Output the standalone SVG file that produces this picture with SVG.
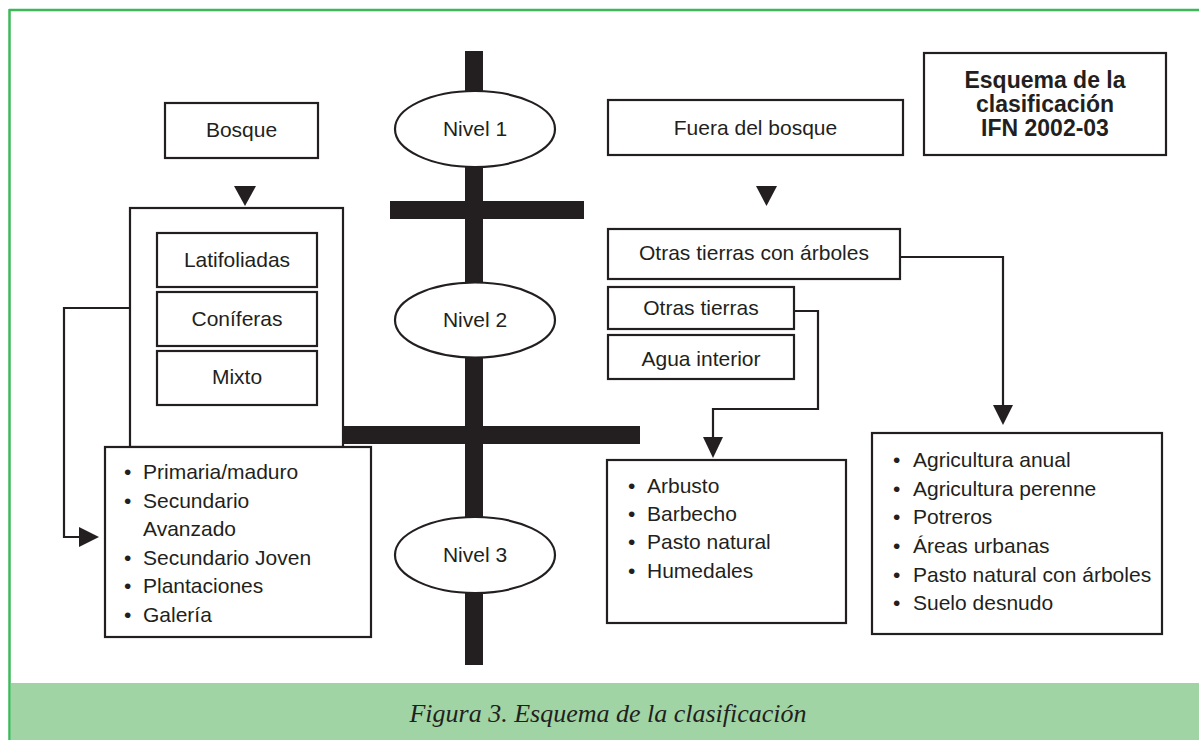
<svg xmlns="http://www.w3.org/2000/svg" width="1199" height="740" viewBox="0 0 1199 740">
<style>
.box{fill:#fff;stroke:#231f20;stroke-width:2.2}
.bar{fill:#231f20}
.t{font-family:"Liberation Sans",Arial,sans-serif;font-size:21px;fill:#231f20}
.c{text-anchor:middle}
.b{font-weight:bold;font-size:23px}
.ln{fill:none;stroke:#231f20;stroke-width:2.2}
.ah{fill:#231f20}
.cap{font-family:"Liberation Serif","Times New Roman",serif;font-style:italic;font-size:26px;fill:#231f20;text-anchor:middle}
</style>
<rect x="0" y="0" width="1199" height="740" fill="#fff"/>
<g id="frame">
<line x1="9" y1="10" x2="1199" y2="10" stroke="#3cb85a" stroke-width="2.5"/>
<line x1="9.5" y1="9" x2="9.5" y2="740" stroke="#3cb85a" stroke-width="2.5"/>
<rect x="11" y="683" width="1188" height="57" fill="#a0d4a4"/>
<text class="cap" x="608" y="722">Figura 3. Esquema de la clasificación</text>
</g>
<g id="axis">
<rect class="bar" x="465" y="51" width="18" height="614"/>
<rect class="bar" x="390" y="201" width="194" height="18"/>
<rect class="bar" x="342" y="426" width="298" height="18"/>
</g>
<g id="nivel1"><ellipse class="box" cx="475" cy="129" rx="80" ry="38"/><text class="t c" x="475" y="136">Nivel 1</text></g>
<g id="nivel2"><ellipse class="box" cx="475" cy="320" rx="80" ry="37.5"/><text class="t c" x="475" y="327">Nivel 2</text></g>
<g id="nivel3"><ellipse class="box" cx="475" cy="555" rx="80" ry="38"/><text class="t c" x="475" y="562">Nivel 3</text></g>
<g id="connectors">
<polygon class="ah" points="234,186 256,186 245,206"/>
<polygon class="ah" points="756,186 777,186 766.5,206"/>
<path class="ln" d="M130,308 H64 V537 H82"/>
<polygon class="ah" points="79,527 99,537 79,547"/>
<path class="ln" d="M794,311 H818 V409 H713 V440"/>
<polygon class="ah" points="703,437 723,437 713,458"/>
<path class="ln" d="M900,257 H1003 V408"/>
<polygon class="ah" points="993,405 1013,405 1003,425"/>
</g>
<g id="bosque"><rect class="box" x="165" y="103" width="153" height="55"/><text class="t c" x="241.5" y="137">Bosque</text></g>
<g id="bosque-nivel2"><rect class="box" x="130" y="208" width="213" height="239"/></g>
<g id="latifoliadas"><rect class="box" x="157" y="233" width="160" height="54"/><text class="t c" x="237" y="267">Latifoliadas</text></g>
<g id="coniferas"><rect class="box" x="157" y="292" width="160" height="54"/><text class="t c" x="237" y="326">Coníferas</text></g>
<g id="mixto"><rect class="box" x="157" y="351" width="160" height="54"/><text class="t c" x="237" y="384">Mixto</text></g>
<g id="bosque-nivel3"><rect class="box" x="105" y="447" width="266" height="190"/>
<text class="t" x="124" y="479">•</text><text class="t" x="143" y="479">Primaria/maduro</text>
<text class="t" x="124" y="508">•</text><text class="t" x="143" y="508">Secundario</text>
<text class="t" x="143" y="536">Avanzado</text>
<text class="t" x="124" y="565">•</text><text class="t" x="143" y="565">Secundario Joven</text>
<text class="t" x="124" y="593">•</text><text class="t" x="143" y="593">Plantaciones</text>
<text class="t" x="124" y="622">•</text><text class="t" x="143" y="622">Galería</text>
</g>
<g id="fuera"><rect class="box" x="608" y="100" width="295" height="55"/><text class="t c" x="755.5" y="135">Fuera del bosque</text></g>
<g id="titulo"><rect class="box" x="924" y="53" width="242" height="102"/>
<text class="t c b" x="1045" y="88">Esquema de la</text>
<text class="t c b" x="1045" y="112">clasificación</text>
<text class="t c b" x="1045" y="136">IFN 2002-03</text>
</g>
<g id="otras-arboles"><rect class="box" x="608" y="229" width="292" height="50"/><text class="t c" x="754" y="260">Otras tierras con árboles</text></g>
<g id="otras"><rect class="box" x="608" y="287" width="186" height="42"/><text class="t c" x="701" y="315">Otras tierras</text></g>
<g id="agua"><rect class="box" x="608" y="335" width="186" height="44"/><text class="t c" x="701" y="366">Agua interior</text></g>
<g id="otras-nivel3"><rect class="box" x="607" y="460" width="239" height="163"/>
<text class="t" x="628" y="493">•</text><text class="t" x="647" y="493">Arbusto</text>
<text class="t" x="628" y="521">•</text><text class="t" x="647" y="521">Barbecho</text>
<text class="t" x="628" y="549">•</text><text class="t" x="647" y="549">Pasto natural</text>
<text class="t" x="628" y="578">•</text><text class="t" x="647" y="578">Humedales</text>
</g>
<g id="arboles-nivel3"><rect class="box" x="872" y="433" width="290" height="201"/>
<text class="t" x="893" y="467">•</text><text class="t" x="913" y="467">Agricultura anual</text>
<text class="t" x="893" y="496">•</text><text class="t" x="913" y="496">Agricultura perenne</text>
<text class="t" x="893" y="524">•</text><text class="t" x="913" y="524">Potreros</text>
<text class="t" x="893" y="553">•</text><text class="t" x="913" y="553">Áreas urbanas</text>
<text class="t" x="893" y="582">•</text><text class="t" x="913" y="582">Pasto natural con árboles</text>
<text class="t" x="893" y="610">•</text><text class="t" x="913" y="610">Suelo desnudo</text>
</g>
</svg>
